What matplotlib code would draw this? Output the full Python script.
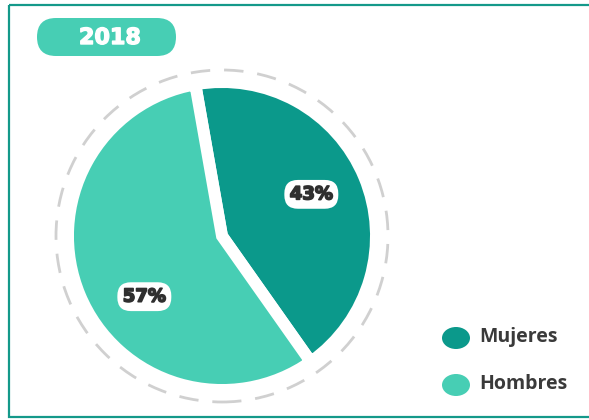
import numpy as np
import matplotlib.pyplot as plt
import matplotlib.patheffects as pe
from matplotlib.patches import FancyBboxPatch, Ellipse, Rectangle, Circle

# datos 2018
year = "2018"
labels = ["Mujeres", "Hombres"]
shares = [43, 57]
colors = ["#0b998b", "#47ceb4"]

W, H = 589, 420
fig = plt.figure(figsize=(W / 100, H / 100), dpi=100)

# capa de fondo en pixeles (marco, etiqueta del año, leyenda)
bg = fig.add_axes([0, 0, 1, 1])
bg.set_xlim(0, W)
bg.set_ylim(H, 0)
bg.axis("off")

bg.add_patch(Rectangle((9, 5), W + 20, 412, fill=False, ec="#14998a", lw=1.6))

bg.add_patch(FancyBboxPatch((37, 18), 139, 38, boxstyle="round,pad=0,rounding_size=19",
                            fc="#47ceb4", ec="none"))
bg.text(110, 38, year, color="white", fontsize=16, fontweight="bold",
        family="DejaVu Sans", ha="center", va="center",
        path_effects=[pe.withStroke(linewidth=1.0, foreground="white")])

# leyenda
for i, (lab, col) in enumerate(zip(labels, colors)):
    y = 338 + i * 47
    bg.add_patch(Ellipse((456, y), 28, 22, fc=col, ec="none"))
    bg.text(479, y - 1, lab, color="#3a3a3a", fontsize=14, fontweight="bold",
            family="Open Sans", ha="left", va="center")

# pastel
cx, cy, R = 222, 236, 154
half = 180
ax = fig.add_axes([(cx - half) / W, (H - cy - half) / H, 2 * half / W, 2 * half / H])

wedges, texts, autotexts = ax.pie(
    shares, colors=colors, startangle=100, counterclock=False, radius=1,
    autopct="%d%%", pctdistance=0.64,
    wedgeprops=dict(edgecolor="white", linewidth=8.6),
    textprops=dict(color="#2f2f2f", fontsize=13, fontweight="bold", family="DejaVu Sans"))

# etiquetas en pastilla blanca
label_angles = [25, 218]
for t, a in zip(autotexts, label_angles):
    t.set_position((0.64 * np.cos(np.radians(a)), 0.64 * np.sin(np.radians(a))))
    t.set_bbox(dict(boxstyle="round,pad=0.3,rounding_size=0.75", fc="white", ec="none"))
    t.set_path_effects([pe.withStroke(linewidth=1.2, foreground="#2f2f2f")])

ax.add_patch(Circle((0, 0), 166 / R, fill=False, ec="#d0d0d0", lw=2,
                    ls=(0, (7, 5)), zorder=0))
ax.set_xlim(-half / R, half / R)
ax.set_ylim(-half / R, half / R)
ax.axis("off")

fig.savefig("out.png", dpi=100)
